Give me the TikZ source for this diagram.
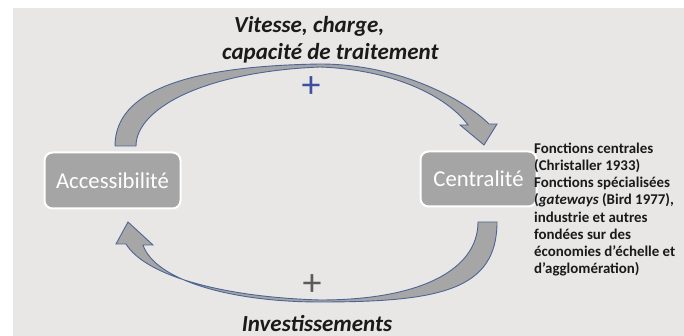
\documentclass[tikz,border=0pt]{standalone}
\usepackage{fontspec}
\setmainfont{Carlito}
\definecolor{bgc}{HTML}{E8E7E6}
\definecolor{boxgray}{HTML}{A5A5A5}
\definecolor{arrowgray}{HTML}{A6A6A6}
\definecolor{arrowedge}{HTML}{4D6594}
\definecolor{plusblue}{HTML}{3C4FA0}
\definecolor{plusgray}{HTML}{5A5A5A}
\definecolor{txt}{HTML}{1A1A1A}
\tikzset{
  mainbox/.style={rounded corners=8pt, fill=boxgray, draw=white, line width=2pt,
    text=white, inner sep=0pt, font=\fontsize{22.7}{27}\selectfont},
  blockarrow/.style={fill=arrowgray, draw=arrowedge, line width=0.9pt, line join=miter},
  looplabel/.style={text=txt, inner sep=0pt, font=\bfseries\itshape\fontsize{23}{27}\selectfont},
  plussign/.style={inner sep=0pt, font=\fontsize{38}{40}\selectfont},
  desctext/.style={text=txt, inner sep=0pt, align=left, font=\bfseries\fontsize{14.9}{17.1}\selectfont}
}
\begin{document}
\begin{tikzpicture}[x=1pt,y=-1pt]
\useasboundingbox (0,0) rectangle (684,336);
\fill[bgc] (13,8) rectangle (684,336);

% boxes
\node[mainbox, minimum width=136pt, minimum height=56pt] (acc) at (112.5,180.5) {Accessibilité};
\node[mainbox, minimum width=116pt, minimum height=55pt] (cen) at (478.5,179) {Centralité};

% top curved arrow (Accessibilité -> Centralité)
\draw[blockarrow]
  (115,146) .. controls (115,90) and (190,66) .. (320,64)
  .. controls (400,64) and (465,100) .. (489,124)
  -- (497,124) -- (484,145) -- (460,125) -- (468,125)
  .. controls (450,100) and (400,70) .. (320,67)
  .. controls (200,72) and (136,110) .. (136,146) -- cycle;

% bottom curved arrow (Centralité -> Accessibilité)
\draw[blockarrow]
  (497,222) .. controls (497,290) and (440,302) .. (320,302)
  .. controls (230,302) and (155,280) .. (143,245)
  -- (153,245) -- (128,222) -- (116,244) -- (126,244)
  .. controls (145,275) and (220,297) .. (320,300)
  .. controls (420,300) and (478,270) .. (478,222) -- cycle;

% labels
\node[looplabel, anchor=base west] (lab1) at (234,32.3) {Vitesse, charge,};
\node[looplabel, anchor=base west] (lab2) at (222,59.3) {capacité de traitement};
\node[looplabel, anchor=base] (lab3) at (317,331) {Investissements};
\node[plussign, text=plusblue] (plus1) at (311,87) {+};
\node[plussign, text=plusgray] (plus2) at (312,285) {+};

\node[desctext, anchor=north west] (desc) at (534,143) {Fonctions centrales\\(Christaller 1933)\\Fonctions spécialisées\\(\textit{gateways} (Bird 1977),\\industrie et autres\\fondées sur des\\économies d’échelle et\\d’agglomération)};
\end{tikzpicture}
\end{document}
